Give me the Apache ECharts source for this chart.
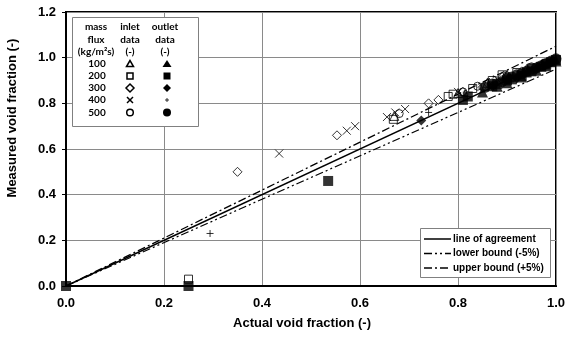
<!DOCTYPE html>
<html>
<head>
<meta charset="utf-8">
<script src="https://cdn.jsdelivr.net/npm/echarts@6/dist/echarts.min.js"></script>
<style>
  html, body { margin: 0; padding: 0; background: #fff; }
  #chart { width: 572px; height: 337px; }
</style>
</head>
<body>
<div id="chart"></div>
<script>
// axis ticks
const xTicks = [0, 0.2, 0.4, 0.6, 0.8, 1.0];
const yTicks = [0, 0.2, 0.4, 0.6, 0.8, 1.0, 1.2];

// [actual, measured]
const inlet100 = [[0.67, 0.745], [0.80, 0.845], [0.86, 0.89], [0.90, 0.925], [0.94, 0.95], [0.97, 0.97]];
const outlet100 = [[0.85, 0.85], [0.88, 0.875], [0.90, 0.89], [0.93, 0.915], [0.96, 0.945], [0.98, 0.965], [1.0, 0.985]];
const inlet200 = [[0.25, 0.03], [0.668, 0.73], [0.78, 0.83], [0.79, 0.84], [0.83, 0.865], [0.87, 0.90], [0.89, 0.925], [0.92, 0.935], [0.95, 0.955], [0.98, 0.975]];
const outlet200 = [[0, 0], [0.25, 0], [0.535, 0.46], [0.81, 0.815], [0.82, 0.83], [0.87, 0.875], [0.88, 0.885], [0.90, 0.90], [0.91, 0.905], [0.93, 0.92], [0.94, 0.935], [0.95, 0.94], [0.97, 0.96], [0.98, 0.97], [0.99, 0.98], [1.0, 0.99]];
const inlet300 = [[0.35, 0.50], [0.553, 0.66], [0.74, 0.80], [0.76, 0.815], [0.81, 0.85], [0.85, 0.87], [0.89, 0.915], [0.93, 0.94], [0.96, 0.96]];
const outlet300 = [[0.725, 0.725], [0.87, 0.875], [0.92, 0.91], [0.96, 0.95], [0.99, 0.98]];
const inlet400 = [[0.435, 0.58], [0.573, 0.68], [0.59, 0.70], [0.655, 0.74], [0.672, 0.76], [0.692, 0.775], [0.80, 0.85], [0.88, 0.905]];
const outlet400 = [[0.294, 0.23], [0.74, 0.76], [0.82, 0.83]];
const inlet500 = [[0.68, 0.755], [0.81, 0.85], [0.84, 0.875], [0.90, 0.92], [0.95, 0.96]];
const outlet500 = [[0.855, 0.87], [0.87, 0.885], [0.89, 0.895], [0.90, 0.91], [0.91, 0.915], [0.92, 0.925], [0.93, 0.93], [0.94, 0.94], [0.95, 0.95], [0.96, 0.955], [0.97, 0.965], [0.98, 0.975], [0.99, 0.985], [1.0, 0.995]];

// reference lines
const agreement = [[0, 0], [1, 1]];
const lowerBound = [[0, 0], [1, 0.95]];
const upperBound = [[0, 0], [1, 1.05]];

const fluxes = ['100', '200', '300', '400', '500'];

const crossPath = 'path://M0,0L10,10M10,0L0,10';
const plusPath = 'path://M5,0L5,10M0,5L10,5';

function openSeries(name, data, symbol, size) {
  return {
    type: 'scatter', name: name, data: data, symbol: symbol, symbolSize: size, clip: false,
    itemStyle: { color: 'rgba(0,0,0,0)', borderColor: '#000', borderWidth: 1 },
    z: 3
  };
}
function filledSeries(name, data, symbol, size) {
  return {
    type: 'scatter', name: name, data: data, symbol: symbol, symbolSize: size, clip: false,
    itemStyle: { color: '#000' },
    z: 4
  };
}
function refLine(name, data, type, width) {
  return {
    type: 'line', name: name, data: data, symbol: 'none',
    lineStyle: { color: '#000', width: width, type: type },
    z: 2
  };
}

// legend symbols drawn with graphic shapes
function legendSymbols() {
  const items = [];
  const rows = [64, 76, 88, 100, 112.5];
  const xi = 130, xo = 167;
  const st = { stroke: '#000', lineWidth: 1.5, fill: null };
  // 100 triangle
  items.push({ type: 'polygon', shape: { points: [[xi, rows[0] - 3.5], [xi - 3.5, rows[0] + 2.5], [xi + 3.5, rows[0] + 2.5]] }, style: st });
  items.push({ type: 'polygon', shape: { points: [[xo, rows[0] - 4], [xo - 4.5, rows[0] + 3], [xo + 4.5, rows[0] + 3]] }, style: { fill: '#000' } });
  // 200 square
  items.push({ type: 'rect', shape: { x: xi - 3, y: rows[1] - 3, width: 6, height: 6 }, style: st });
  items.push({ type: 'rect', shape: { x: xo - 3.5, y: rows[1] - 3.5, width: 7, height: 7 }, style: { fill: '#000' } });
  // 300 diamond
  items.push({ type: 'polygon', shape: { points: [[xi, rows[2] - 4], [xi + 4, rows[2]], [xi, rows[2] + 4], [xi - 4, rows[2]]] }, style: st });
  items.push({ type: 'polygon', shape: { points: [[xo, rows[2] - 4], [xo + 4, rows[2]], [xo, rows[2] + 4], [xo - 4, rows[2]]] }, style: { fill: '#000' } });
  // 400 cross / plus
  items.push({ type: 'polyline', shape: { points: [[xi - 3, rows[3] - 3], [xi + 3, rows[3] + 3]] }, style: { stroke: '#000', lineWidth: 1.5 } });
  items.push({ type: 'polyline', shape: { points: [[xi + 3, rows[3] - 3], [xi - 3, rows[3] + 3]] }, style: { stroke: '#000', lineWidth: 1.5 } });
  items.push({ type: 'polyline', shape: { points: [[xo - 2, rows[3]], [xo + 2, rows[3]]] }, style: { stroke: '#000', lineWidth: 0.8 } });
  items.push({ type: 'polyline', shape: { points: [[xo, rows[3] - 2], [xo, rows[3] + 2]] }, style: { stroke: '#000', lineWidth: 0.8 } });
  // 500 circle
  items.push({ type: 'circle', shape: { cx: xi, cy: rows[4], r: 3.3 }, style: st });
  items.push({ type: 'circle', shape: { cx: xo, cy: rows[4], r: 4 }, style: { fill: '#000' } });
  return items;
}

const chart = echarts.init(document.getElementById('chart'));

const legendFont = { fontFamily: 'Lato', fontWeight: 'bold', fontSize: 10, fill: '#000' };
const headerRows = [
  ['mass', 'inlet', 'outlet'],
  ['flux', 'data', 'data'],
  ['(kg/m\u00b2s)', '(-)', '(-)']
];
const headerY = [27, 39.5, 51.5];
const colX = [96, 130, 165];

const graphics = [
  // top-left legend box
  { type: 'rect', shape: { x: 72.5, y: 17.5, width: 126, height: 109 }, style: { fill: '#fff', stroke: '#808080', lineWidth: 1 }, z: 10 }
];
headerRows.forEach(function (row, r) {
  row.forEach(function (t, c) {
    graphics.push({ type: 'text', x: colX[c], y: headerY[r], z: 11,
      style: Object.assign({ text: t, textAlign: 'center', textVerticalAlign: 'middle' }, legendFont) });
  });
});
[64, 76, 88, 100, 112.5].forEach(function (y, i) {
  graphics.push({ type: 'text', x: 97, y: y, z: 11,
    style: Object.assign({ text: fluxes[i], textAlign: 'center', textVerticalAlign: 'middle' }, legendFont) });
});
legendSymbols().forEach(function (g) { g.z = 11; graphics.push(g); });

// bottom-right legend for the reference lines
const lineNames = ['line of agreement', 'lower bound (-5%)', 'upper bound (+5%)'];
const lineDash = [null, [8, 3, 2, 3, 2, 3], [8, 3, 2, 3]];
graphics.push({ type: 'rect', shape: { x: 420.5, y: 228.5, width: 130, height: 49 }, style: { fill: '#fff', stroke: '#808080', lineWidth: 1 }, z: 10 });
[239, 253.5, 268].forEach(function (y, i) {
  graphics.push({ type: 'line', shape: { x1: 424, y1: y, x2: 451, y2: y }, z: 11,
    style: { stroke: '#000', lineWidth: 1.5, lineDash: lineDash[i] } });
  graphics.push({ type: 'text', x: 453, y: y, z: 11,
    style: { text: lineNames[i], textVerticalAlign: 'middle', fontFamily: 'Liberation Sans', fontWeight: 'bold', fontSize: 10, fill: '#000' } });
});
// axis titles
graphics.push({ type: 'text', x: 12, y: 118, rotation: Math.PI / 2, z: 11,
  style: { text: 'Measured void fraction (-)', textAlign: 'center', textVerticalAlign: 'middle', fontFamily: 'Liberation Sans', fontWeight: 'bold', fontSize: 13, fill: '#000' } });
graphics.push({ type: 'text', x: 302, y: 323, z: 11,
  style: { text: 'Actual void fraction (-)', textAlign: 'center', textVerticalAlign: 'middle', fontFamily: 'Liberation Sans', fontWeight: 'bold', fontSize: 13, fill: '#000' } });

const option = {
  animation: false,
  backgroundColor: '#fff',
  grid: {
    left: 66, right: 16, top: 12, bottom: 51,
    show: true, borderColor: '#000', borderWidth: 2
  },
  xAxis: {
    type: 'value', min: xTicks[0], max: xTicks[xTicks.length - 1], interval: 0.2,
    axisLine: { lineStyle: { color: '#000', width: 2 } },
    axisTick: { show: false },
    splitLine: { lineStyle: { color: '#8a8a8a', width: 1 } },
    axisLabel: { margin: 11, color: '#000', fontFamily: 'Liberation Sans', fontWeight: 'bold', fontSize: 13,
      formatter: function (v) { return v.toFixed(1); } }
  },
  yAxis: {
    type: 'value', min: yTicks[0], max: yTicks[yTicks.length - 1], interval: 0.2,
    axisLine: { lineStyle: { color: '#000', width: 2 } },
    axisTick: { show: true, length: 4, lineStyle: { color: '#000' } },
    splitLine: { lineStyle: { color: '#8a8a8a', width: 1 } },
    axisLabel: { margin: 10, color: '#000', fontFamily: 'Liberation Sans', fontWeight: 'bold', fontSize: 13,
      formatter: function (v) { return v.toFixed(1); } }
  },
  graphic: graphics,
  series: [
    refLine('line of agreement', agreement, 'solid', 1.5),
    refLine('lower bound (-5%)', lowerBound, [8, 3, 2, 3, 2, 3], 1.3),
    refLine('upper bound (+5%)', upperBound, [8, 3, 2, 3], 1.3),
    openSeries('100 inlet', inlet100, 'triangle', 9),
    openSeries('200 inlet', inlet200, 'rect', 8),
    openSeries('300 inlet', inlet300, 'diamond', 9),
    openSeries('400 inlet', inlet400, crossPath, 8),
    openSeries('500 inlet', inlet500, 'circle', 8),
    filledSeries('100 outlet', outlet100, 'triangle', 11),
    filledSeries('200 outlet', outlet200, 'rect', 10),
    filledSeries('300 outlet', outlet300, 'diamond', 10),
    openSeries('400 outlet', outlet400, plusPath, 7),
    filledSeries('500 outlet', outlet500, 'circle', 11)
  ]
};
chart.setOption(option);
</script>
</body>
</html>
